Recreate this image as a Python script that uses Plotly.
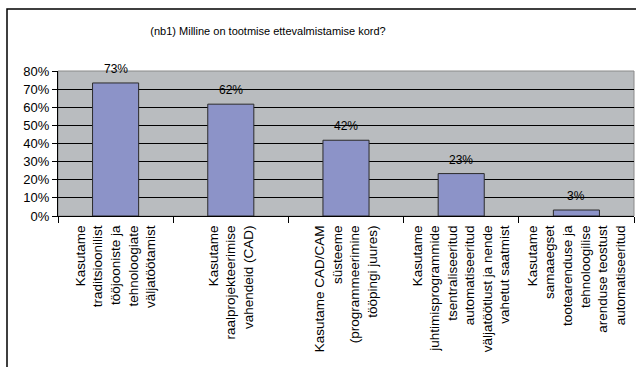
import plotly.graph_objects as go

# Data
categories = [
    "Kasutame<br>traditsioonilist<br>tööjooniste ja<br>tehnoloogiate<br>väljatöötamist",
    "Kasutame<br>raalprojekteerimise<br>vahendeid (CAD)",
    "Kasutame CAD/CAM<br>süsteeme<br>(programmeerimine<br>tööpingi juures)",
    "Kasutame<br>juhtimisprogrammide<br>tsentraliseeritud<br>automatiseeritud<br>väljatöötlust ja nende<br>vahetut saatmist",
    "Kasutame<br>samaaegset<br>tootearenduse ja<br>tehnoloogilise<br>arenduse teostust<br>automatiseeritud",
]
values = [0.734, 0.617, 0.418, 0.234, 0.033]
value_labels = ["73%", "62%", "42%", "23%", "3%"]
title_text = "(nb1) Milline on tootmise ettevalmistamise kord?"

FONT = "Liberation Sans, Arial, sans-serif"

fig = go.Figure(
    go.Bar(
        x=categories,
        y=values,
        width=0.4,
        marker=dict(color="#8C93C8", line=dict(color="#2b2b2b", width=1)),
        hoverinfo="skip",
    )
)

# value labels above the bars
annotations = [
    dict(
        x=c, y=v, text=t, showarrow=False, yanchor="middle", yshift=14,
        font=dict(family=FONT, size=12, color="black"),
    )
    for c, v, t in zip(categories, values, value_labels)
]

fig.update_layout(
    width=636,
    height=367,
    margin=dict(l=58, r=2, t=71, b=151),
    paper_bgcolor="white",
    plot_bgcolor="#B9BCBF",
    showlegend=False,
    font=dict(family=FONT, size=12, color="black"),
    title=dict(
        text=title_text,
        x=0.3646, xref="paper", xanchor="center",
        y=1 - 31 / 367, yref="container", yanchor="middle",
        font=dict(family=FONT, size=11, color="black"),
    ),
    annotations=annotations,
    xaxis=dict(
        type="category",
        automargin=False,
        tickangle=-90,
        tickson="boundaries",
        ticks="outside",
        ticklen=6,
        tickcolor="black",
        ticklabelstandoff=3,
        showline=True,
        linecolor="black",
        linewidth=1,
        showgrid=False,
        tickfont=dict(family=FONT, size=13.5, color="black"),
    ),
    yaxis=dict(
        automargin=False,
        range=[0, 0.8],
        dtick=0.1,
        tickformat=".0%",
        ticks="outside",
        ticklen=5,
        tickcolor="black",
        showline=True,
        linecolor="black",
        linewidth=1,
        showgrid=True,
        gridcolor="black",
        gridwidth=1,
        zeroline=False,
        tickfont=dict(family=FONT, size=13, color="black"),
    ),
    shapes=[
        # faint border around the plot area
        dict(type="rect", xref="paper", yref="paper", x0=0, x1=1, y0=0, y1=1,
             line=dict(color="#8a8a8a", width=1), layer="below"),
        # chart frame (only top and left visible in the crop)
        dict(type="rect", xref="paper", yref="paper",
             x0=-51 / 576, x1=1.2, y0=-1.3, y1=207 / 145,
             line=dict(color="black", width=1.5)),
    ],
)

# drop the default page margin so the figure sits at the window's corner
fig.write_html(
    "out.html",
    config={"displayModeBar": False},
    post_script="document.body.style.margin='0';",
)
